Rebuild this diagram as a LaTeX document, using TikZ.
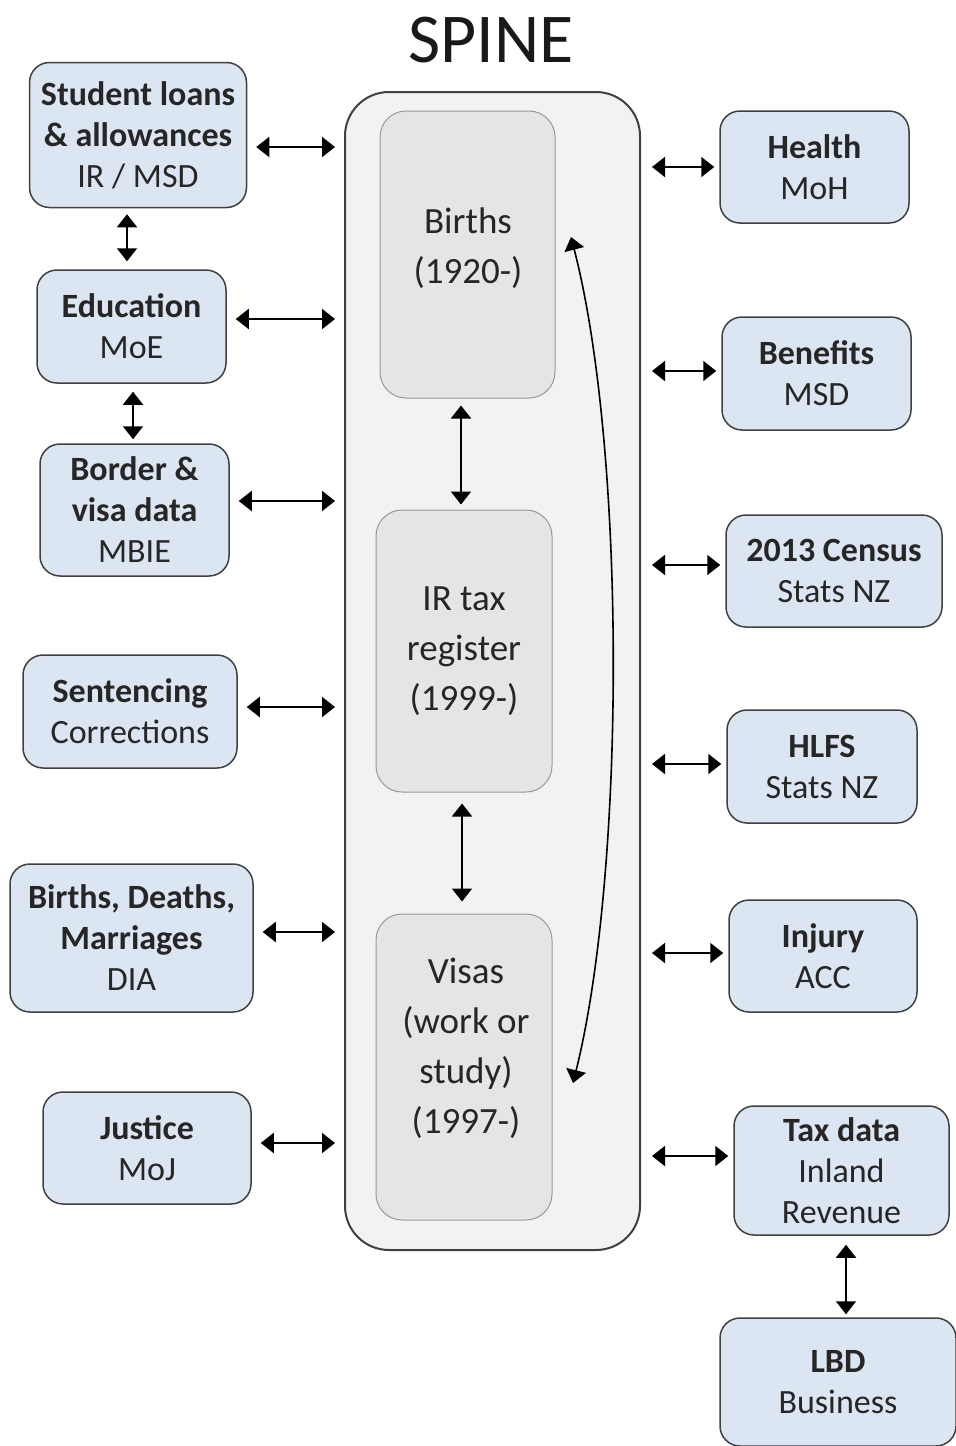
\documentclass[tikz,border=0pt]{standalone}
\usepackage{fontspec}
\setmainfont{Carlito}
\usetikzlibrary{arrows.meta}

\definecolor{srcblue}{HTML}{DCE6F2}
\definecolor{spinegray}{HTML}{F2F2F2}
\definecolor{reggray}{HTML}{E5E5E5}
\definecolor{edgegray}{HTML}{404040}

\tikzset{
  src/.style={draw=edgegray, line width=0.75pt, fill=srcblue, rounded corners=10pt,
    align=center, inner sep=0pt, text=black!85, font=\fontsize{17}{20.5}\selectfont},
  spinebox/.style={draw=edgegray, line width=1pt, fill=spinegray, rounded corners=22pt},
  reg/.style={draw=black!40, line width=0.5pt, fill=reggray, rounded corners=13pt,
    align=center, inner sep=0pt, text=black!85, font=\fontsize{18.5}{25}\selectfont},
  link/.style={line width=1pt, {Triangle[length=6.5pt,width=10pt]}-{Triangle[length=6.5pt,width=10pt]}},
}

\begin{document}
\begin{tikzpicture}[x=0.5pt, y=-0.5pt]
  \useasboundingbox (0,0) rectangle (956,1446);

  \node[text=black!90, font=\fontsize{35}{42}\selectfont] (title) at (491,40) {SPINE};

  % the spine and its registers
  \node[spinebox, minimum width=147.5pt, minimum height=579pt] (spine) at (492.5,671) {};
  \node[reg, minimum width=87.5pt, minimum height=143.5pt] (births) at (467.5,254.5) {};
  \node[reg, draw=none, fill=none] (birthstext) at (468,248) {Births\\(1920-)};
  \node[reg, minimum width=88pt, minimum height=141pt] (ir) at (464,651) {IR tax\\register\\(1999-)};
  \node[reg, minimum width=88pt, minimum height=153pt] (visas) at (464,1067) {};
  \node[reg, draw=none, fill=none] (visastext) at (466,1048) {Visas\\(work or\\study)\\(1997-)};

  % left sources
  \node[src, minimum width=108.5pt, minimum height=72.5pt] (stu) at (138,135)
    {\textbf{Student loans}\\\textbf{\& allowances}\\IR / MSD};
  \node[src, minimum width=94.5pt, minimum height=56.5pt] (edu) at (131.5,326.5)
    {\textbf{Education}\\MoE};
  \node[src, minimum width=94.5pt, minimum height=66pt] (bor) at (134.5,510)
    {\textbf{Border \&}\\\textbf{visa data}\\MBIE};
  \node[src, minimum width=107pt, minimum height=56.5pt] (sen) at (130,711.5)
    {\textbf{Sentencing}\\Corrections};
  \node[src, minimum width=121.5pt, minimum height=74pt] (bdm) at (131.5,938)
    {\textbf{Births, Deaths,}\\\textbf{Marriages}\\DIA};
  \node[src, minimum width=104pt, minimum height=56pt] (jus) at (147,1148)
    {\textbf{Justice}\\MoJ};

  % right sources
  \node[src, minimum width=94.5pt, minimum height=56pt] (hea) at (814.5,167)
    {\textbf{Health}\\MoH};
  \node[src, minimum width=94.5pt, minimum height=56.5pt] (ben) at (816.5,373.5)
    {\textbf{Benefits}\\MSD};
  \node[src, minimum width=108pt, minimum height=56pt] (cen) at (834,571)
    {\textbf{2013 Census}\\Stats NZ};
  \node[src, minimum width=95pt, minimum height=56.5pt] (hlf) at (822,766.5)
    {\textbf{HLFS}\\Stats NZ};
  \node[src, minimum width=94pt, minimum height=56pt] (inj) at (823,956)
    {\textbf{Injury}\\ACC};
  \node[src, minimum width=107.5pt, minimum height=64.5pt] (tax) at (841.5,1170.5)
    {\textbf{Tax data}\\Inland\\Revenue};
  \node[src, minimum width=118pt, minimum height=64pt] (lbd) at (838,1382)
    {\textbf{LBD}\\Business};

  % links to the spine
  \foreach \n/\y in {stu/147, edu/319, bor/501, sen/707, bdm/932, jus/1143}
    \draw[link, shorten <=4.5pt, shorten >=4.5pt] (\n.east |- 0,\y) -- (spine.west |- 0,\y);
  \foreach \n/\y in {hea/167, ben/371, cen/565, hlf/764, inj/953, tax/1156}
    \draw[link, shorten <=5.5pt, shorten >=2.5pt] (spine.east |- 0,\y) -- (\n.west |- 0,\y);

  % links between sources and between registers
  \draw[link, shorten <=3pt, shorten >=4pt] (stu.south -| 127,0) -- (edu.north -| 127,0);
  \draw[link, shorten <=4pt, shorten >=2pt] (edu.south -| 133,0) -- (bor.north -| 133,0);
  \draw[link, shorten <=3.5pt, shorten >=2.5pt] (births.south -| 461,0) -- (ir.north -| 461,0);
  \draw[link, shorten <=5.5pt, shorten >=6pt] (ir.south -| 462,0) -- (visas.north -| 462,0);
  \draw[link, shorten <=4.5pt, shorten >=1.5pt] (tax.south -| 846,0) -- (lbd.north -| 846,0);

  \coordinate (ctop) at (571,237);
  \coordinate (cbot) at (573,1083);
  \draw[link, line width=0.8pt] (ctop) .. controls (626,450) and (626,870) .. (cbot);
\end{tikzpicture}
\end{document}
